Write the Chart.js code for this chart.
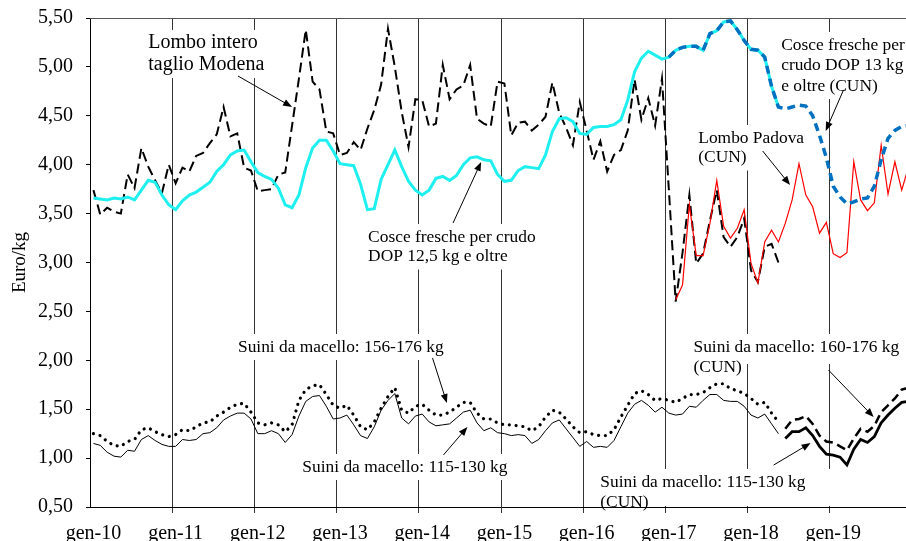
<!DOCTYPE html>
<html>
<head>
<meta charset="utf-8">
<script src="https://cdn.jsdelivr.net/npm/chart.js@4.4.1/dist/chart.umd.min.js"></script>
<style>
  html, body { margin: 0; padding: 0; background: #fff; overflow: hidden; }
  #wrap { position: relative; width: 912px; height: 541px; }
</style>
</head>
<body>
<div id="wrap"><canvas id="grafico"></canvas></div>
<script>
// mesi e anni per le etichette dell'asse x
const mesi = ['gen', 'feb', 'mar', 'apr', 'mag', 'giu', 'lug', 'ago', 'set', 'ott', 'nov', 'dic'];
const anni = ['10', '11', '12', '13', '14', '15', '16', '17', '18', '19'];
const tickY = [0.5, 1, 1.5, 2, 2.5, 3, 3.5, 4, 4.5, 5, 5.5];

// Lombo intero taglio Modena (gen-10 .. mag-18)
const lomboModena = [
  3.74, 3.49, 3.56, 3.52, 3.50, 3.90, 3.76, 4.17, 3.98, 3.84, 3.71, 4.00,
  3.81, 3.97, 3.93, 4.09, 4.12, 4.22, 4.31, 4.59, 4.29, 4.32, 3.97, 3.94,
  3.73, 3.74, 3.75, 3.90, 3.92, 4.40, 4.88, 5.38, 4.85, 4.77, 4.34, 4.32,
  4.10, 4.12, 4.23, 4.15, 4.37, 4.56, 4.82, 5.39, 5.00, 4.54, 4.18, 4.67,
  4.66, 4.39, 4.42, 5.02, 4.67, 4.77, 4.81, 5.02, 4.47, 4.42, 4.39, 4.85,
  4.83, 4.30, 4.43, 4.44, 4.35, 4.41, 4.49, 4.84, 4.53, 4.38, 4.20, 4.64,
  4.35, 4.05, 4.24, 3.93, 4.10, 4.15, 4.35, 4.87, 4.46, 4.68, 4.40, 4.88,
  3.75, 2.60, 3.10, 3.69, 2.99, 3.09, 3.43, 3.74, 3.26, 3.16, 3.26, 3.45,
  2.92, 2.80, 3.16, 3.19, 3.00
];

// Cosce fresche per crudo DOP 12,5 kg e oltre (gen-10 .. mag-18)
const cosce125 = [
  3.66, 3.65, 3.64, 3.66, 3.65, 3.67, 3.64, 3.74, 3.84, 3.82, 3.69, 3.59,
  3.54, 3.63, 3.69, 3.72, 3.77, 3.82, 3.93, 4.00, 4.10, 4.14, 4.15, 4.03,
  3.92, 3.88, 3.85, 3.76, 3.59, 3.56, 3.69, 3.97, 4.17, 4.25, 4.25, 4.14,
  4.01, 4.00, 3.99, 3.80, 3.54, 3.55, 3.85, 4.00, 4.15, 3.98, 3.83, 3.74,
  3.69, 3.74, 3.86, 3.88, 3.84, 3.89, 4.00, 4.07, 4.08, 4.05, 4.04, 3.90,
  3.83, 3.84, 3.94, 3.98, 3.97, 3.96, 4.10, 4.34, 4.47, 4.48, 4.44, 4.32,
  4.31, 4.38, 4.39, 4.39, 4.41, 4.46, 4.66, 4.95, 5.09, 5.16, 5.12, 5.08,
  5.10, 5.17, 5.20, 5.21, 5.21, 5.17, 5.34, 5.37, 5.46, 5.47, 5.38, 5.27,
  5.18, 5.17, 5.10, 4.80, 4.59
];

// Cosce fresche per crudo DOP 13 kg e oltre (CUN) (gen-17 .. dic-19)
const cosceCun13 = [
  5.10, 5.17, 5.20, 5.21, 5.21, 5.17, 5.34, 5.37, 5.46, 5.47, 5.38, 5.27,
  5.18, 5.17, 5.10, 4.80, 4.59, 4.57, 4.59, 4.61, 4.60, 4.50, 4.30, 4.07,
  3.78, 3.67, 3.60, 3.62, 3.65, 3.66, 3.78, 4.05, 4.27, 4.35, 4.39, 4.40
];

// Lombo Padova (CUN) (feb-17 .. dic-19)
const lomboPadova = [
  2.62, 2.77, 3.59, 3.07, 3.07, 3.40, 3.84, 3.37, 3.25, 3.35, 3.54,
  2.99, 2.79, 3.21, 3.33, 3.21, 3.40, 3.64, 4.01, 3.69, 3.57, 3.30, 3.41,
  3.09, 3.05, 3.10, 4.03, 3.64, 3.53, 3.61, 4.20, 3.70, 4.03, 3.74, 3.98
];

// Suini da macello: 156-176 kg (gen-10 .. mag-18)
const suini156 = [
  1.25, 1.23, 1.17, 1.13, 1.12, 1.17, 1.19, 1.29, 1.31, 1.27, 1.24, 1.22,
  1.24, 1.29, 1.28, 1.32, 1.36, 1.37, 1.43, 1.47, 1.52, 1.55, 1.56, 1.47,
  1.36, 1.34, 1.36, 1.34, 1.27, 1.34, 1.59, 1.70, 1.74, 1.75, 1.65, 1.54,
  1.51, 1.54, 1.44, 1.32, 1.29, 1.37, 1.51, 1.63, 1.72, 1.49, 1.46, 1.53,
  1.55, 1.49, 1.44, 1.44, 1.47, 1.52, 1.57, 1.57, 1.46, 1.40, 1.40, 1.36,
  1.34, 1.34, 1.33, 1.32, 1.28, 1.32, 1.42, 1.49, 1.47, 1.40, 1.32, 1.26,
  1.27, 1.24, 1.23, 1.23, 1.29, 1.42, 1.54, 1.66, 1.69, 1.65, 1.59, 1.61,
  1.59, 1.57, 1.61, 1.65, 1.65, 1.67, 1.72, 1.76, 1.76, 1.71, 1.69, 1.66,
  1.61, 1.55, 1.57, 1.46, 1.37
];

// Suini da macello: 115-130 kg (gen-10 .. mag-18)
const suini115 = [
  1.15, 1.13, 1.06, 1.02, 1.01, 1.08, 1.07, 1.19, 1.23, 1.18, 1.14, 1.12,
  1.12, 1.19, 1.18, 1.19, 1.25, 1.26, 1.31, 1.39, 1.43, 1.46, 1.46, 1.40,
  1.25, 1.25, 1.28, 1.25, 1.16, 1.24, 1.43, 1.58, 1.63, 1.64, 1.53, 1.40,
  1.41, 1.44, 1.34, 1.23, 1.20, 1.32, 1.49, 1.59, 1.66, 1.41, 1.35, 1.43,
  1.45, 1.37, 1.33, 1.34, 1.35, 1.41, 1.47, 1.49, 1.36, 1.28, 1.31, 1.26,
  1.25, 1.23, 1.24, 1.23, 1.15, 1.19, 1.28, 1.36, 1.39, 1.30, 1.21, 1.12,
  1.17, 1.11, 1.12, 1.11, 1.18, 1.32, 1.46, 1.55, 1.59, 1.54, 1.47, 1.52,
  1.46, 1.44, 1.45, 1.53, 1.52, 1.59, 1.65, 1.65, 1.59, 1.58, 1.58, 1.53,
  1.44, 1.41, 1.45, 1.35, 1.25
];

// Suini da macello CUN (giu-18 .. dic-19)
const suini160Cun = [1.30, 1.39, 1.40, 1.43, 1.35, 1.23, 1.17, 1.16, 1.12, 1.08, 1.20, 1.30, 1.27, 1.33, 1.47, 1.54, 1.61, 1.70, 1.72];
const suini115Cun = [1.20, 1.27, 1.27, 1.31, 1.23, 1.12, 1.04, 1.03, 1.01, 0.93, 1.09, 1.19, 1.16, 1.22, 1.36, 1.44, 1.51, 1.57, 1.58];

const etichette = [];
anni.forEach(a => mesi.forEach(m => etichette.push(m + '-' + a)));

// mette la serie sulla scala mensile a partire dal mese indicato
const serie = (da, valori) => {
  const i0 = etichette.indexOf(da);
  return etichette.map((_, i) => (i >= i0 && i < i0 + valori.length) ? valori[i - i0] : null);
};

const FONT = "'Liberation Serif', 'Times New Roman', serif";
Chart.defaults.font.family = FONT;
Chart.defaults.color = '#000';

// testi e frecce, in coordinate dei dati (mese, euro/kg)
const note = [
  { righe: ['Lombo intero', 'taglio Modena'], m: 8.0, v: 5.244, size: 20, passo: 22, fr: [21.1, 4.907, 29.0, 4.59] },
  { righe: ['Cosce fresche per crudo', 'DOP 12,5 kg e oltre'], m: 40.1, v: 3.261, size: 17.4, passo: 19.5, fr: [52.5, 3.404, 56.6, 4.028] },
  { righe: ['Cosce fresche per', 'crudo DOP 13 kg', 'e oltre (CUN)'], m: 100.4, v: 5.224, size: 17.4, passo: 20.5, fr: [109.5, 4.764, 106.9, 4.345] },
  { righe: ['Lombo Padova', '(CUN)'], m: 88.3, v: 4.273, size: 17.4, passo: 19.5, fr: [97.7, 4.14, 101.7, 3.792] },
  { righe: ['Suini da macello: 156-176 kg'], m: 21.1, v: 2.136, size: 17.4, passo: 20, fr: [49.5, 2.024, 51.6, 1.563] },
  { righe: ['Suini da macello: 115-130 kg'], m: 30.5, v: 0.909, size: 17.4, passo: 20, fr: [51.1, 1.032, 54.6, 1.318] },
  { righe: ['Suini da macello: 160-176 kg', '(CUN)'], m: 87.6, v: 2.136, size: 17.4, passo: 20, padB: -16, fr: [107.3, 1.901, 113.9, 1.42] },
  { righe: ['Suini da macello: 115-130 kg', '(CUN)'], m: 74.0, v: 0.756, size: 17.4, passo: 20, padR: 30, fr: [99.3, 0.929, 104.7, 1.154] }
];

function freccia(ctx, x1, y1, x2, y2) {
  const a = Math.atan2(y2 - y1, x2 - x1);
  const L = 9, W = 3.5;
  ctx.beginPath();
  ctx.moveTo(x1, y1);
  ctx.lineTo(x2 - L * 0.8 * Math.cos(a), y2 - L * 0.8 * Math.sin(a));
  ctx.stroke();
  ctx.beginPath();
  ctx.moveTo(x2, y2);
  ctx.lineTo(x2 - L * Math.cos(a) + W * Math.sin(a), y2 - L * Math.sin(a) - W * Math.cos(a));
  ctx.lineTo(x2 - L * Math.cos(a) - W * Math.sin(a), y2 - L * Math.sin(a) + W * Math.cos(a));
  ctx.closePath();
  ctx.fill();
}

const notePlugin = {
  id: 'note',
  beforeDatasetsDraw(chart) {
    // riquadri bianchi dei testi: coprono le linee verticali
    const { ctx, chartArea: a, scales: { x, y } } = chart;
    ctx.save();
    ctx.beginPath();
    ctx.rect(a.left + 1, a.top, a.right - a.left - 1, a.bottom - a.top - 1);
    ctx.clip();
    ctx.fillStyle = '#fff';
    note.forEach(n => {
      ctx.font = n.size + 'px ' + FONT;
      const w = Math.max(...n.righe.map(r => ctx.measureText(r).width));
      const x0 = x.getPixelForValue(n.m), y0 = y.getPixelForValue(n.v);
      const top = y0 - 13;
      const bottom = y0 + (n.righe.length - 1) * n.passo + 13 + (n.padB || 0);
      ctx.fillRect(x0 - 3, top, w + 6 + (n.padR || 0), bottom - top);
    });
    ctx.restore();
  },
  afterDatasetsDraw(chart) {
    const { ctx, scales: { x, y } } = chart;
    ctx.save();
    ctx.fillStyle = '#000';
    ctx.strokeStyle = '#000';
    ctx.lineWidth = 1;
    ctx.textAlign = 'left';
    ctx.textBaseline = 'middle';
    note.forEach(n => {
      ctx.font = n.size + 'px ' + FONT;
      const x0 = x.getPixelForValue(n.m), y0 = y.getPixelForValue(n.v);
      n.righe.forEach((r, i) => ctx.fillText(r, x0, y0 + i * n.passo));
      const f = n.fr;
      freccia(ctx, x.getPixelForValue(f[0]), y.getPixelForValue(f[1]), x.getPixelForValue(f[2]), y.getPixelForValue(f[3]));
    });
    ctx.restore();
  },
  afterDraw(chart) {
    // bordo superiore dell'area del grafico
    const { ctx, chartArea: a } = chart;
    ctx.save();
    ctx.strokeStyle = '#555';
    ctx.lineWidth = 1;
    ctx.beginPath();
    ctx.moveTo(a.left, a.top + 0.5);
    ctx.lineTo(a.right, a.top + 0.5);
    ctx.stroke();
    ctx.restore();
  }
};

const base = { pointRadius: 0, pointHoverRadius: 0, tension: 0, fill: false, spanGaps: false };

// eslint-disable-next-line no-unused-vars
const grafico = new Chart(document.getElementById('grafico'), {
  type: 'line',
  data: {
    labels: etichette,
    datasets: [
      { ...base, label: 'Cosce fresche per crudo DOP 13 kg e oltre (CUN)', data: serie('gen-17', cosceCun13), borderColor: '#0070C0', borderWidth: 3.5, borderDash: [8, 5] },
      { ...base, label: 'Cosce fresche per crudo DOP 12,5 kg e oltre', data: serie('gen-10', cosce125), borderColor: '#1FEFEF', borderWidth: 3 },
      { ...base, label: 'Lombo Padova (CUN)', data: serie('feb-17', lomboPadova), borderColor: '#FF0000', borderWidth: 1.2 },
      { ...base, label: 'Lombo intero taglio Modena', data: serie('gen-10', lomboModena), borderColor: '#000', borderWidth: 2, borderDash: [10, 5] },
      { ...base, label: 'Suini da macello: 115-130 kg (CUN)', data: serie('giu-18', suini115Cun), borderColor: '#000', borderWidth: 2.8 },
      { ...base, label: 'Suini da macello: 160-176 kg (CUN)', data: serie('giu-18', suini160Cun), borderColor: '#000', borderWidth: 2.5, borderDash: [9, 5] },
      { ...base, label: 'Suini da macello: 156-176 kg', data: serie('gen-10', suini156), borderColor: '#000', borderWidth: 3.2, borderDash: [0.01, 6.8], borderCapStyle: 'round' },
      { ...base, label: 'Suini da macello: 115-130 kg', data: serie('gen-10', suini115), borderColor: '#000', borderWidth: 1 }
    ]
  },
  options: {
    responsive: true,
    maintainAspectRatio: false,
    animation: false,
    events: [],
    layout: { padding: { top: 18, left: 0, right: 0, bottom: 0 } },
    plugins: { legend: { display: false }, tooltip: { enabled: false } },
    scales: {
      x: {
        type: 'category',
        offset: true,
        grid: {
          offset: true,
          color: c => (c.index % 12 === 0 && c.index > 0) ? '#333' : 'rgba(0,0,0,0)',
          lineWidth: 1,
          tickLength: 6,
          drawTicks: true
        },
        border: { color: '#000', width: 1 },
        ticks: {
          autoSkip: false, maxRotation: 0, minRotation: 0, padding: 9,
          color: '#000', font: { size: 20 },
          callback: (v, i) => i % 12 === 0 ? etichette[i] : ''
        },
        afterFit: s => { s.height = 34; s.paddingLeft = 0; s.paddingRight = 0; }
      },
      y: {
        min: tickY[0],
        max: tickY[tickY.length - 1],
        afterBuildTicks: s => { s.ticks = tickY.map(v => ({ value: v })); },
        ticks: {
          padding: 13, color: '#000', font: { size: 20 },
          callback: v => v.toFixed(2).replace('.', ',')
        },
        grid: { drawOnChartArea: false, drawTicks: true, tickLength: 4, color: '#000' },
        border: { color: '#000', width: 1 },
        title: { display: true, text: 'Euro/kg', color: '#000', font: { size: 19 }, padding: { top: 9, bottom: 0 } },
        afterFit: s => { s.width = 90; s.paddingTop = 0; s.paddingBottom = 0; }
      }
    }
  },
  plugins: [notePlugin]
});
</script>
</body>
</html>
